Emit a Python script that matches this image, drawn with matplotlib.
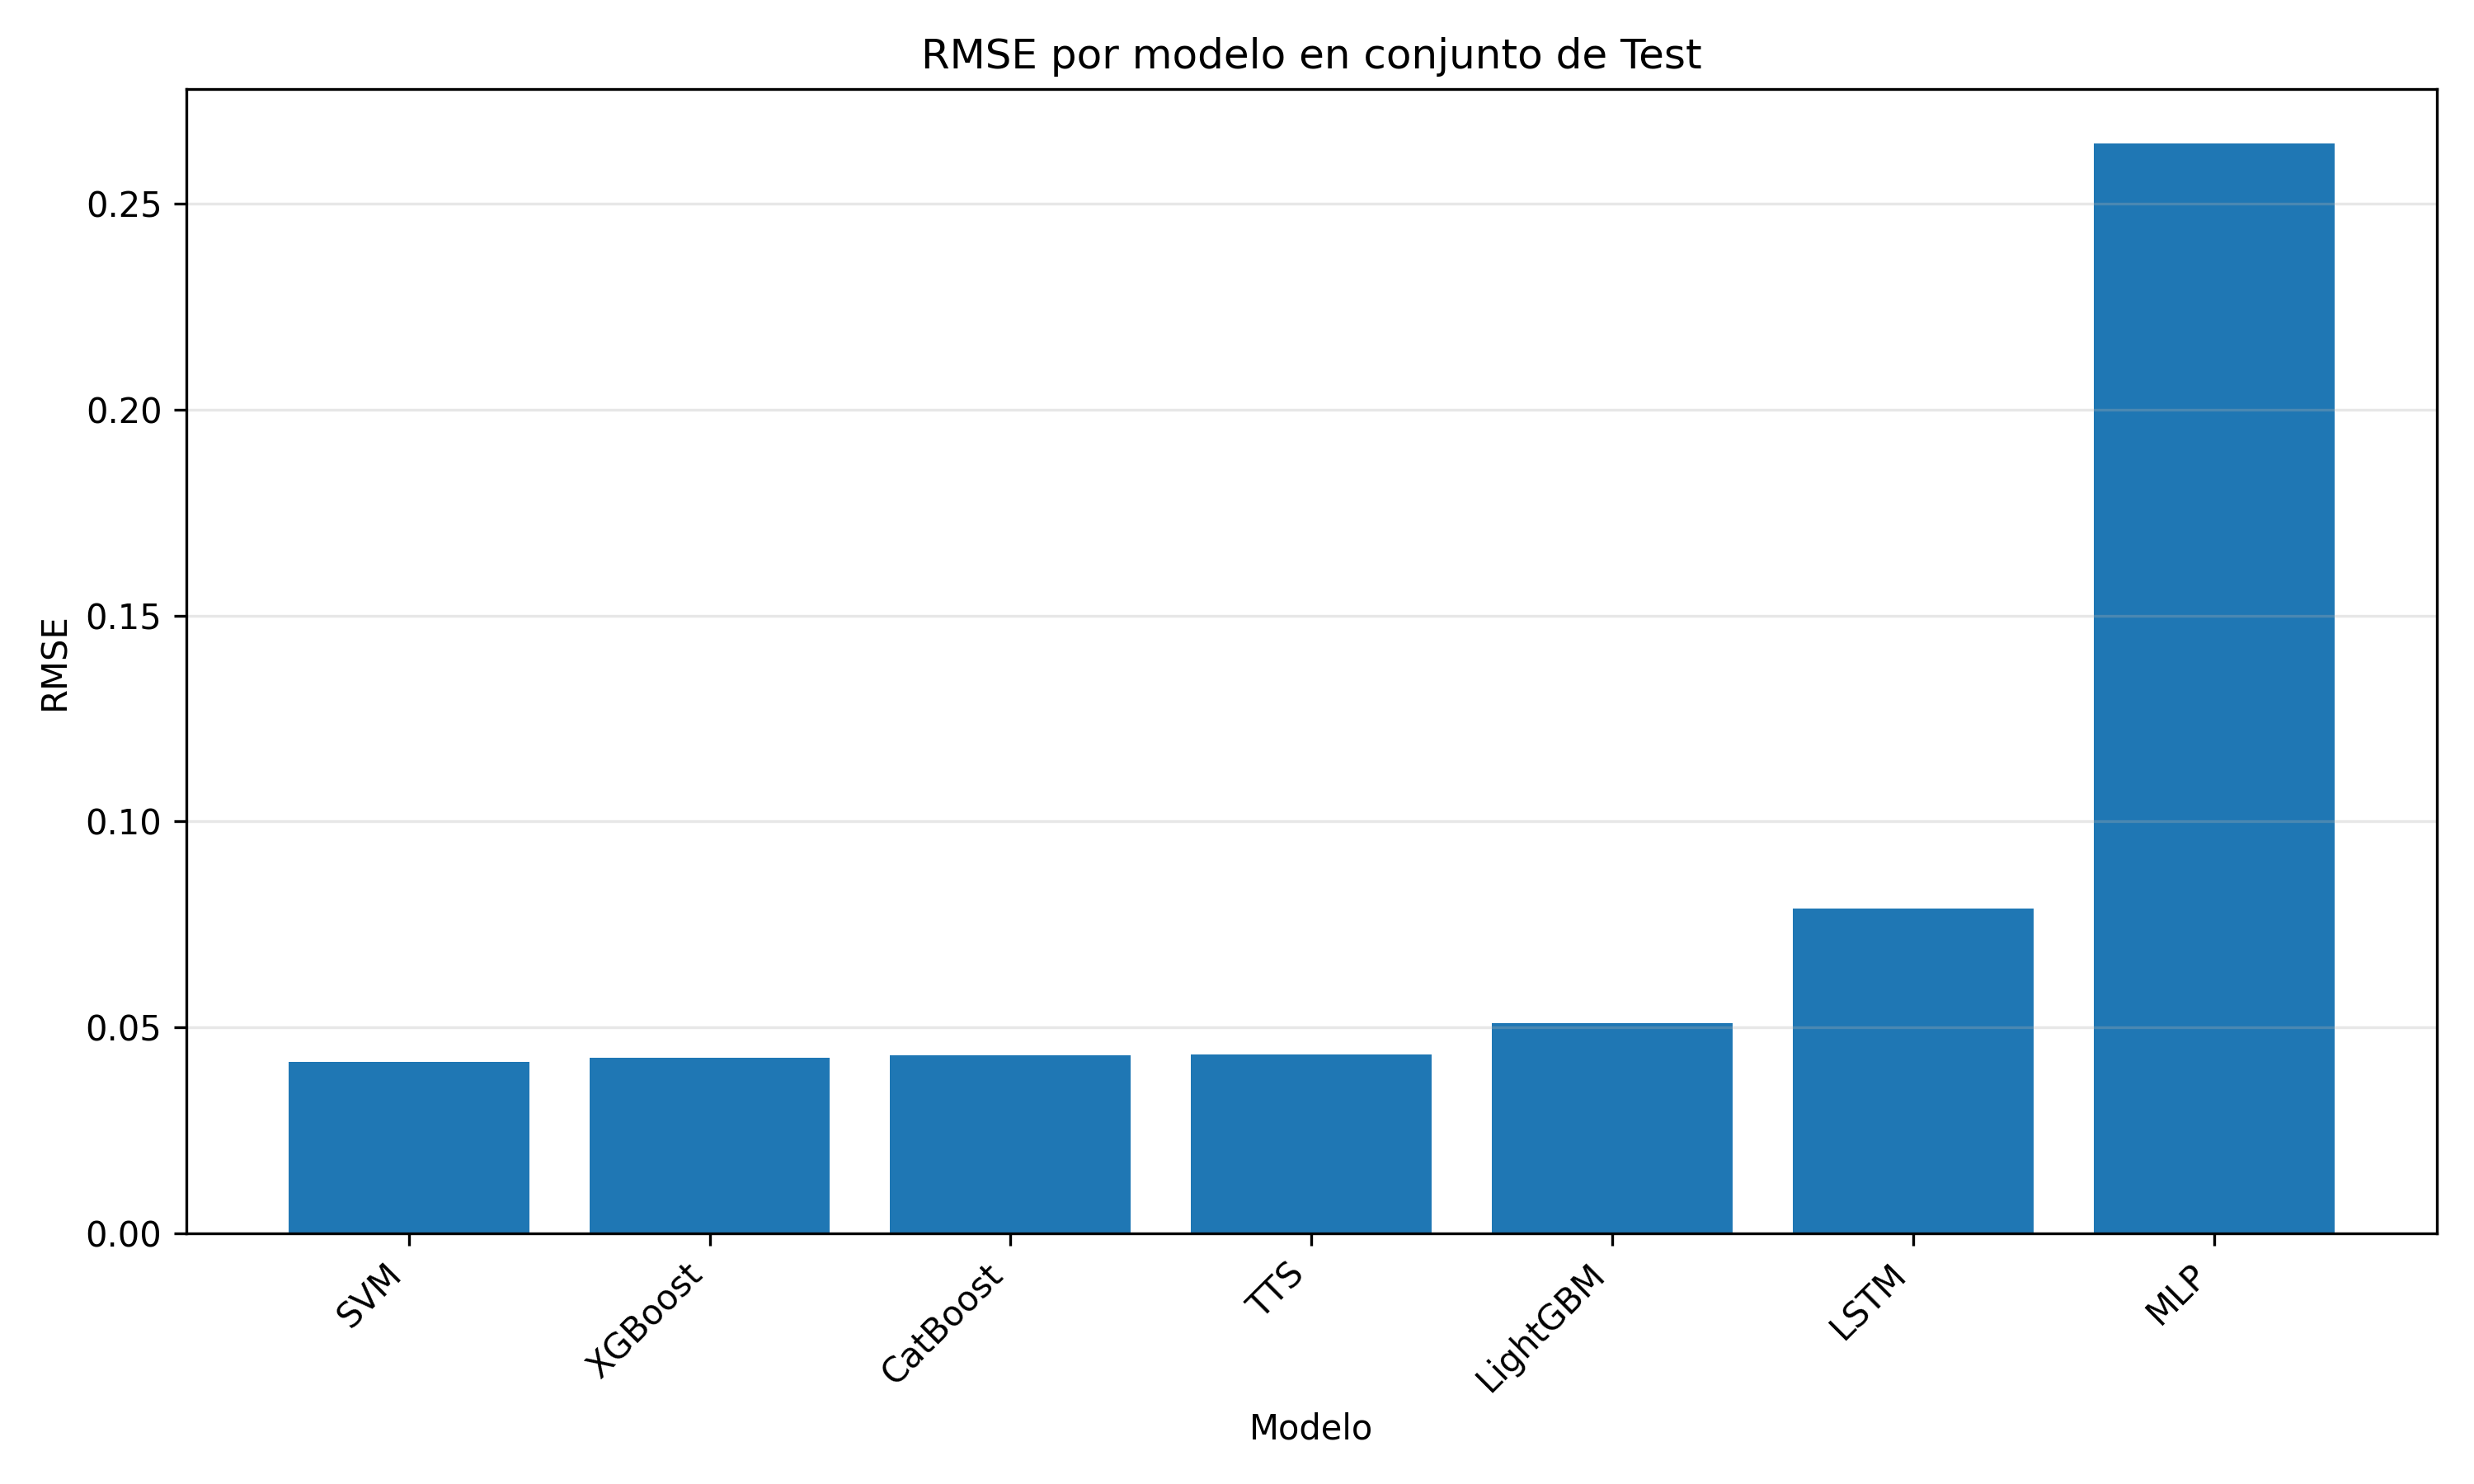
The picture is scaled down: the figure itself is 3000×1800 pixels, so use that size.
import numpy as np
import matplotlib
matplotlib.use('Agg')
import matplotlib.pyplot as plt

modelos = ['SVM', 'XGBoost', 'CatBoost', 'TTS', 'LightGBM', 'LSTM', 'MLP']
rmse = [0.0416, 0.0426, 0.0432, 0.0434, 0.0510, 0.0789, 0.2647]

fig, ax = plt.subplots(figsize=(10, 6), dpi=300)
ax.bar(modelos, rmse, color='#1f77b4')
ax.set_title('RMSE por modelo en conjunto de Test')
ax.set_xlabel('Modelo')
ax.set_ylabel('RMSE')
ax.grid(axis='y', alpha=0.3)
plt.xticks(rotation=45, ha='right')
plt.tight_layout()
plt.savefig('out.png', dpi=300)
